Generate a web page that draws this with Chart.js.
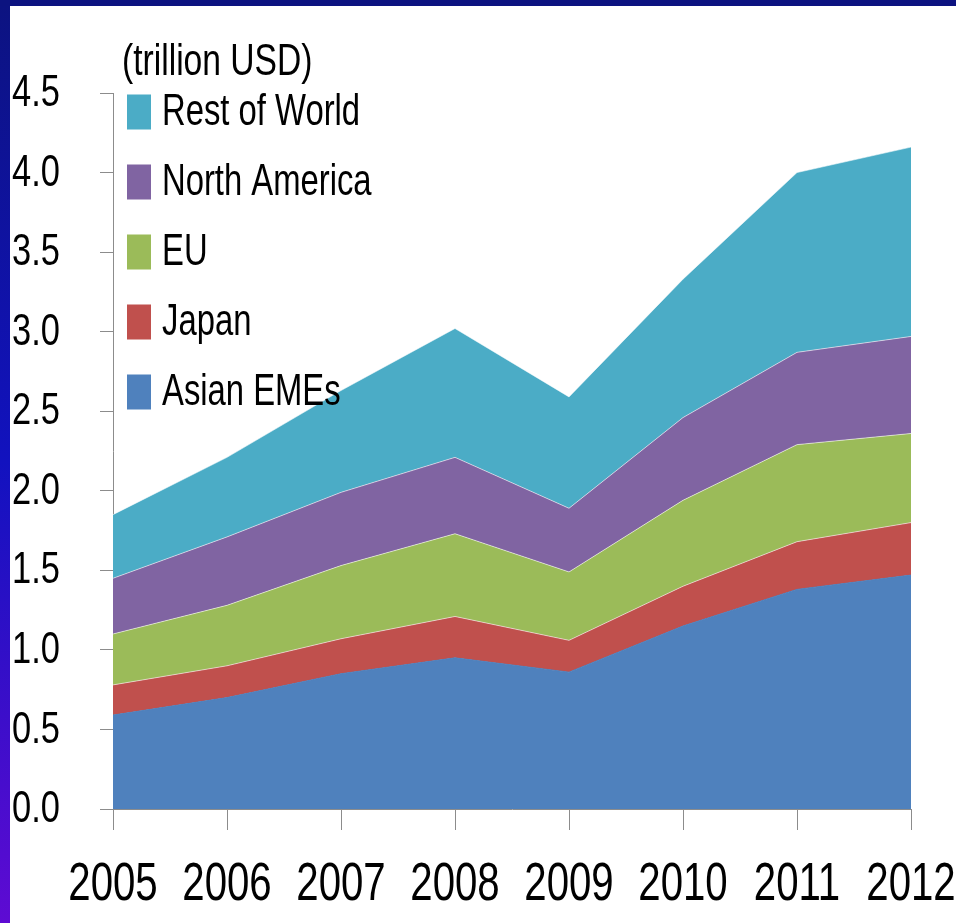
<!DOCTYPE html>
<html>
<head>
<meta charset="utf-8">
<title>Holdings by region (trillion USD)</title>
<script src="https://cdn.jsdelivr.net/npm/chart.js@4.4.1/dist/chart.umd.min.js"></script>
<style>
  html, body { margin: 0; padding: 0; background: #ffffff; }
  #wrap { position: relative; width: 956px; height: 923px; }
  canvas { display: block; }
</style>
</head>
<body>
<div id="wrap"><canvas id="chart" width="956" height="923"></canvas></div>
<script>
// Categories and series (trillion USD), bottom layer first
const years = ['2005', '2006', '2007', '2008', '2009', '2010', '2011', '2012'];
const asianEMEs    = [0.59, 0.70, 0.85, 0.95, 0.86, 1.15, 1.38, 1.47];
const japan        = [0.19, 0.20, 0.22, 0.26, 0.20, 0.25, 0.30, 0.33];
const eu           = [0.32, 0.38, 0.46, 0.52, 0.43, 0.54, 0.61, 0.56];
const northAmerica = [0.35, 0.43, 0.46, 0.48, 0.40, 0.52, 0.58, 0.61];
const restOfWorld  = [0.40, 0.50, 0.64, 0.81, 0.70, 0.87, 1.13, 1.19];

const seriesNames = ['Asian EMEs', 'Japan', 'EU', 'North America', 'Rest of World'];
const seriesData = [asianEMEs, japan, eu, northAmerica, restOfWorld];
const seriesColors = ['#4f81bd', '#c0504d', '#9bbb59', '#8064a2', '#4bacc6'];

const yTicks = { min: 0, max: 4.5, step: 0.5 };
const unitLabel = '(trillion USD)';

const FONT = "'Liberation Sans', Arial, sans-serif";
// Narrow, tall lettering: Liberation Sans squeezed horizontally
const SX = 0.82;

function drawText(ctx, text, x, y, size, sy, align) {
  ctx.save();
  ctx.font = size + 'px ' + FONT;
  ctx.textAlign = align || 'left';
  ctx.textBaseline = 'middle';
  ctx.translate(x, y);
  ctx.scale(SX, sy);
  ctx.fillText(text, 0, 0);
  ctx.restore();
}

// Frame: navy band along the top, blue-to-violet strip down the left side
const framePlugin = {
  id: 'frame',
  beforeDraw(chart) {
    const { ctx, width, height } = chart;
    ctx.save();
    ctx.fillStyle = '#ffffff';
    ctx.fillRect(0, 0, width, height);
    const g = ctx.createLinearGradient(0, 0, 0, height);
    g.addColorStop(0, '#0c1380');
    g.addColorStop(0.5, '#1212bf');
    g.addColorStop(1, '#5e0bd3');
    ctx.fillStyle = g;
    ctx.fillRect(0, 0, 10, height);
    ctx.fillStyle = '#0c1380';
    ctx.fillRect(0, 0, width, 6);
    ctx.restore();
  }
};

// Tick labels placed from the chart's own scales
const tickLabelPlugin = {
  id: 'tickLabels',
  afterDraw(chart) {
    const { ctx } = chart;
    const xs = chart.scales.x, ys = chart.scales.y;
    ctx.save();
    ctx.fillStyle = '#000000';
    ys.ticks.forEach((t, i) => {
      drawText(ctx, Number(t.value).toFixed(1), 12, ys.getPixelForTick(i) + 1, 42, 1.05, 'left');
    });
    xs.ticks.forEach((t, i) => {
      drawText(ctx, chart.data.labels[t.value], xs.getPixelForTick(i), 885, 49, 1.08, 'center');
    });
    ctx.restore();
  }
};

// Unit caption and a vertical legend in the upper-left of the plot
const legendPlugin = {
  id: 'sideLegend',
  afterDraw(chart) {
    const { ctx, chartArea } = chart;
    ctx.save();
    ctx.fillStyle = '#000000';
    drawText(ctx, unitLabel, chartArea.left + 9, 63, 41, 1.1, 'left');

    const items = chart.data.datasets.map(d => ({ text: d.label, color: d.backgroundColor })).reverse();
    const boxX = chartArea.left + 14;
    const boxW = 24, boxH = 35;
    const firstY = 112, gap = 70;
    items.forEach((it, i) => {
      const cy = firstY + i * gap;
      ctx.fillStyle = it.color;
      ctx.fillRect(boxX, cy - boxH / 2, boxW, boxH);
      ctx.fillStyle = '#000000';
      drawText(ctx, it.text, boxX + boxW + 11, cy + 1, 40, 1.12, 'left');
    });
    ctx.restore();
  }
};

const datasets = seriesNames.map((name, i) => ({
  label: name,
  data: seriesData[i],
  backgroundColor: seriesColors[i],
  borderColor: i === 0 ? seriesColors[i] : 'rgba(255,255,255,0.55)',
  borderWidth: 1,
  fill: i === 0 ? 'origin' : '-1',
  pointRadius: 0,
  pointHoverRadius: 0,
  tension: 0,
  stack: 'all'
}));

new Chart(document.getElementById('chart'), {
  type: 'line',
  data: { labels: years, datasets },
  plugins: [framePlugin, legendPlugin, tickLabelPlugin],
  options: {
    responsive: false,
    animation: false,
    events: [],
    layout: { padding: { left: 12, top: 93, right: 45, bottom: 0 } },
    plugins: {
      legend: { display: false },
      tooltip: { enabled: false },
      filler: { propagate: false }
    },
    scales: {
      x: {
        offset: false,
        grid: { display: true, drawOnChartArea: false, drawTicks: true, tickLength: 21, color: '#8c8c8c', lineWidth: 1 },
        border: { display: true, color: '#8c8c8c', width: 1 },
        ticks: { display: false, autoSkip: false, maxRotation: 0 },
        afterFit(scale) {
          scale.paddingLeft = 0;
          scale.paddingRight = 0;
          scale.height = 114;
        }
      },
      y: {
        stacked: true,
        min: yTicks.min,
        max: yTicks.max,
        grid: { display: true, drawOnChartArea: false, drawTicks: true, tickLength: 13, color: '#8c8c8c', lineWidth: 1 },
        border: { display: true, color: '#8c8c8c', width: 1 },
        ticks: { display: false, stepSize: yTicks.step },
        afterFit(scale) {
          scale.width = 101;
          scale.paddingTop = 0;
          scale.paddingBottom = 0;
        }
      }
    }
  }
});
</script>
</body>
</html>
